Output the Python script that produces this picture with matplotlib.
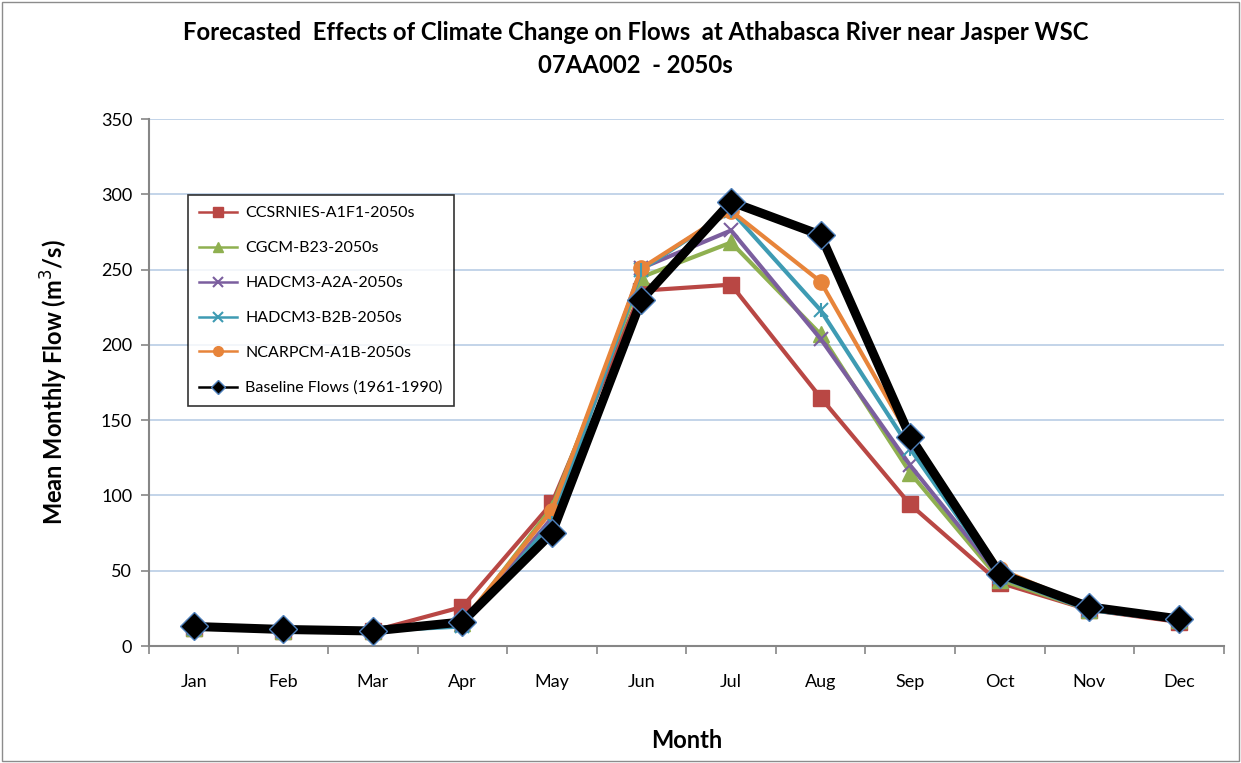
import matplotlib.pyplot as plt
from matplotlib.patches import Rectangle

months = ['Jan', 'Feb', 'Mar', 'Apr', 'May', 'Jun', 'Jul', 'Aug', 'Sep', 'Oct', 'Nov', 'Dec']

ccsrnies = [12, 10, 10, 26, 95, 236, 240, 165, 94, 42, 24, 16]
cgcm = [12, 10, 10, 15, 92, 245, 268, 207, 115, 44, 24, 17]
hadcm3_a2a = [12, 10, 10, 14, 85, 251, 276, 204, 120, 46, 24, 17]
hadcm3_b2b = [12, 10, 10, 13, 82, 250, 289, 223, 131, 46, 24, 17]
ncarpcm = [12, 10, 10, 16, 90, 251, 289, 242, 138, 51, 26, 18]
baseline = [13, 11, 10, 16, 75, 230, 295, 273, 139, 48, 26, 18]

plt.rcParams['font.family'] = ['Lato', 'DejaVu Sans']

fig = plt.figure(figsize=(12.41, 7.63), dpi=100)
fig.patches.append(Rectangle((0.002, 0.002), 0.996, 0.996, transform=fig.transFigure,
                             fill=False, edgecolor='#8c8c8c', linewidth=1))
ax = fig.add_axes([0.120, 0.1533, 0.866, 0.6907])

x = list(range(len(months)))
series = [
    (ccsrnies, 'CCSRNIES-A1F1-2050s', '#B94744', 's', 11, 'none'),
    (cgcm, 'CGCM-B23-2050s', '#8FB050', '^', 11, 'none'),
    (hadcm3_a2a, 'HADCM3-A2A-2050s', '#7B5E9E', 'x', 10, None),
    (hadcm3_b2b, 'HADCM3-B2B-2050s', '#3E9BB3', 'x', 10, None),
    (ncarpcm, 'NCARPCM-A1B-2050s', '#E7843A', 'o', 11, 'none'),
]
for vals, lab, col, mk, ms, mec in series:
    kw = dict(color=col, linewidth=3, marker=mk, markersize=ms, label=lab)
    if mec == 'none':
        kw['markeredgecolor'] = col
    else:
        kw['markeredgewidth'] = 1.5
    ax.plot(x, vals, **kw)
# asterisk look for B2B: add a bar over the x
ax.plot(x, hadcm3_b2b, linestyle='none', marker='|', markersize=10,
        markeredgewidth=1.5, color='#3E9BB3')
ax.plot(x, baseline, color='black', linewidth=6.5, marker='D', markersize=14,
        markerfacecolor='black', markeredgecolor='#4F81BD', markeredgewidth=1,
        label='Baseline Flows (1961-1990)', zorder=5)

ax.set_xlim(-0.5, 11.5)
ax.set_ylim(0, 350)
ax.set_yticks(range(0, 351, 50))
ax.yaxis.grid(True, color='#B9CDE5', linewidth=1.2)
ax.set_axisbelow(True)
ax.set_xticks([i - 0.5 for i in range(13)])
ax.set_xticklabels([])
ax.set_xticks(x, minor=True)
ax.set_xticklabels(months, minor=True)
ax.tick_params(axis='x', which='minor', length=0, pad=20, labelsize=13)
ax.tick_params(axis='x', which='major', length=6, color='#868686', width=1.2)
ax.tick_params(axis='y', length=6, color='#868686', width=1.2, labelsize=13, pad=6)
for side in ['top', 'right']:
    ax.spines[side].set_visible(False)
for side in ['left', 'bottom']:
    ax.spines[side].set_color('#868686')
    ax.spines[side].set_linewidth(1.5)

ax.set_ylabel('Mean Monthly Flow (m$^3$/s)', fontsize=17, fontweight='bold', labelpad=22)
ax.set_xlabel('Month', fontsize=17, fontweight='bold', labelpad=28)
fig.suptitle('Forecasted  Effects of Climate Change on Flows  at Athabasca River near Jasper WSC\n07AA002  - 2050s',
             fontsize=17.2, fontweight='bold', y=0.972, x=0.512, linespacing=1.5)

leg = ax.legend(loc='upper left', bbox_to_anchor=(0.036, 0.856), fontsize=11.5,
                frameon=True, fancybox=False, edgecolor='black', labelspacing=1.3,
                handlelength=2.4, handletextpad=0.5, borderpad=0.7, borderaxespad=0)
leg.get_frame().set_linewidth(1.2)
for h in leg.get_lines():
    h.set_linewidth(1.8)
    h.set_markersize(7)

plt.savefig('out.png', dpi=100)
